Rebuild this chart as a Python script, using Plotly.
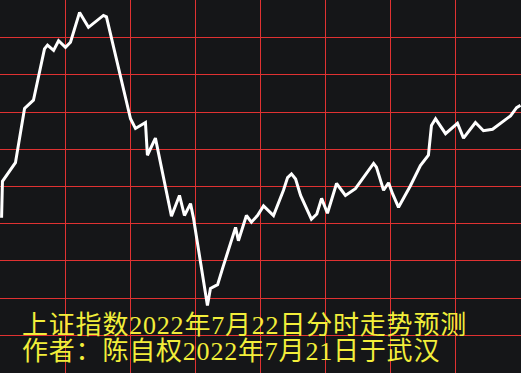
import plotly.graph_objects as go

# minute index within trading session (0..240)
minutes = [0.5, 0.9, 6.9, 11.1, 15.2, 20.3, 21.7, 24.5, 26.8, 30.0, 32.3, 36.5, 40.6,
           47.5, 48.9, 60.0, 62.3, 64.2, 66.9, 67.8, 71.5, 78.9, 82.6, 84.9, 87.7,
           89.1, 95.5, 96.9, 100.2, 102.5, 108.5, 109.8, 113.5, 115.8, 118.6, 121.4,
           126.0, 130.6, 132.5, 134.3, 136.2, 138.5, 143.5, 146.0, 148.2, 150.9, 155.1,
           159.2, 163.8, 172.2, 173.5, 176.8, 179.1, 181.0, 183.7, 189.2, 193.8, 197.5,
           198.9, 200.8, 205.4, 210.9, 213.7, 219.2, 222.9, 227.1, 235.4, 238.2, 240.0]
# forecast index values
values = [3265.8, 3270.7, 3273.2, 3280.5, 3281.6, 3288.5, 3289.0, 3288.3, 3289.6,
          3288.7, 3289.4, 3293.4, 3291.4, 3293.0, 3292.8, 3279.1, 3277.8, 3278.1,
          3278.6, 3274.2, 3276.5, 3266.0, 3268.8, 3266.1, 3267.7, 3265.7, 3254.0,
          3256.3, 3256.8, 3259.0, 3264.5, 3262.7, 3266.1, 3265.2, 3266.1, 3267.4,
          3266.1, 3269.5, 3271.2, 3271.7, 3271.0, 3268.8, 3265.6, 3266.3, 3268.4,
          3266.4, 3270.4, 3268.8, 3269.7, 3273.1, 3272.6, 3269.5, 3270.5, 3269.0,
          3267.2, 3270.1, 3272.8, 3274.2, 3278.2, 3279.1, 3277.1, 3278.5, 3276.5,
          3278.6, 3277.5, 3277.7, 3279.5, 3280.6, 3280.9]

title_lines = ["上证指数2022年7月22日分时走势预测",
               "作者：陈自权2022年7月21日于武汉"]

W, H = 521, 373
BG = "#151618"
GRID = "#e03232"
TXT = "#f2ee3a"

fig = go.Figure()
fig.add_trace(go.Scatter(x=minutes, y=values, mode="lines",
                         line=dict(color="white", width=3), hoverinfo="skip"))

# base font 20 -> line pitch 26px; glyphs drawn at 26px via span style
caption = "<br>".join(
    '<span style="font-size:26px;letter-spacing:0.8px">%s</span>' % s for s in title_lines)

fig.update_layout(
    width=W, height=H,
    margin=dict(l=0, r=0, t=0, b=0),
    paper_bgcolor=BG, plot_bgcolor=BG,
    showlegend=False,
    xaxis=dict(range=[-0.23, 240.23], tick0=0, dtick=30, showgrid=True,
               gridcolor=GRID, gridwidth=1, zeroline=False, showticklabels=False,
               ticks="", showline=False, fixedrange=True),
    yaxis=dict(range=[3244.93, 3295.07], tick0=3245, dtick=5, showgrid=True,
               gridcolor=GRID, gridwidth=1, zeroline=False, showticklabels=False,
               ticks="", showline=False, fixedrange=True),
    annotations=[
        dict(text=caption, xref="paper", yref="paper", x=20 / W, y=1 - 338 / H,
             xanchor="left", yanchor="middle", align="left", showarrow=False,
             font=dict(family="Liberation Serif, Noto Sans CJK SC", size=20, color=TXT)),
    ],
)

fig.write_html("out.html", config={"displayModeBar": False})
